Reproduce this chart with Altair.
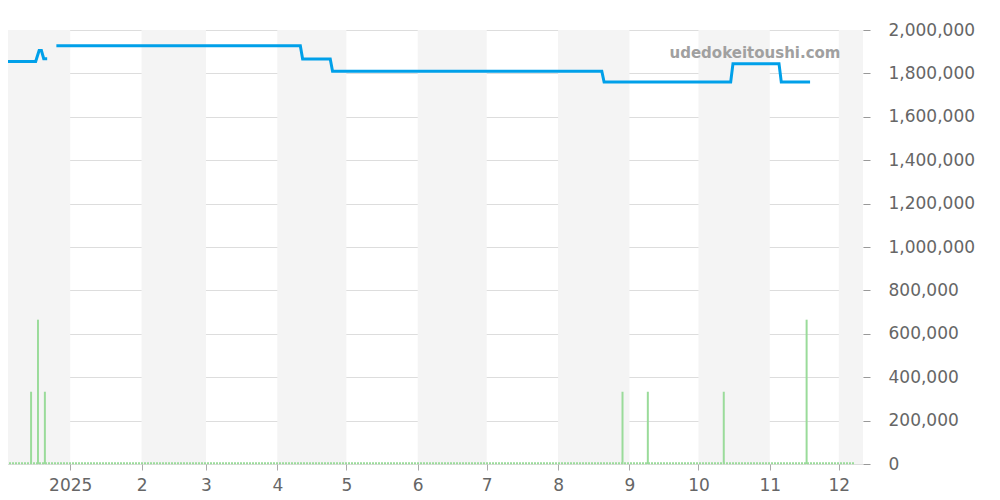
import altair as alt
import pandas as pd

# ---- data ----
line_dates = [
    "2024-12-01T00:00:00", "2024-12-17T00:00:00", "2024-12-18T12:00:00", "2024-12-19T12:00:00",
    "2024-12-20T12:00:00", "2024-12-22T00:00:00",
    "2024-12-26T00:00:00", "2025-04-11T00:00:00", "2025-04-12T00:00:00", "2025-04-24T00:00:00",
    "2025-04-25T00:00:00", "2025-08-20T00:00:00", "2025-08-21T00:00:00", "2025-10-15T00:00:00",
    "2025-10-16T00:00:00", "2025-11-05T00:00:00", "2025-11-06T00:00:00", "2025-11-18T12:00:00",
]
line_values = [
    1855000, 1855000, 1905000, 1905000,
    1868000, 1868000,
    1927000, 1927000, 1866000, 1866000,
    1810000, 1810000, 1760000, 1760000,
    1845000, 1845000, 1760000, 1760000,
]
line_segments = ["a"] * 6 + ["b"] * 12

bar_dates = [
    "2024-12-15T00:00:00", "2024-12-18T00:00:00", "2024-12-21T00:00:00",
    "2025-08-29T00:00:00", "2025-09-09T00:00:00", "2025-10-12T00:00:00", "2025-11-17T00:00:00",
]
bar_values = [333000, 665000, 333000, 333000, 333000, 333000, 665000]

band_starts = ["2024-12-01T00:00:00", "2025-02-01T00:00:00", "2025-04-01T00:00:00",
               "2025-06-01T00:00:00", "2025-08-01T00:00:00", "2025-10-01T00:00:00",
               "2025-12-01T00:00:00"]
band_ends = ["2025-01-01T00:00:00", "2025-03-01T00:00:00", "2025-05-01T00:00:00",
             "2025-07-01T00:00:00", "2025-09-01T00:00:00", "2025-11-01T00:00:00",
             "2025-12-12T00:00:00"]

month_ticks = ["2025-01-01T00:00:00", "2025-02-01T00:00:00", "2025-03-01T00:00:00",
               "2025-04-01T00:00:00", "2025-05-01T00:00:00", "2025-06-01T00:00:00",
               "2025-07-01T00:00:00", "2025-08-01T00:00:00", "2025-09-01T00:00:00",
               "2025-10-01T00:00:00", "2025-11-01T00:00:00", "2025-12-01T00:00:00"]
y_ticks = [0, 200000, 400000, 600000, 800000, 1000000, 1200000, 1400000,
           1600000, 1800000, 2000000]

x_domain = ["2024-12-01T12:00:00", "2025-12-11T12:00:00"]
baseline_range = ["2024-12-01T12:00:00", "2025-12-08T00:00:00"]
baseline_value = [4000]
watermark = "udedokeitoushi.com"

# ---- tables ----
line_df = pd.DataFrame({"date": line_dates, "value": line_values, "seg": line_segments})
bar_df = pd.DataFrame({"date": bar_dates, "value": bar_values})
band_df = pd.DataFrame({"start": band_starts, "end": band_ends})
base_df = pd.DataFrame({"start": [baseline_range[0]], "end": [baseline_range[1]], "value": baseline_value})

xscale = alt.Scale(domain=x_domain)
yscale = alt.Scale(domain=[0, 2000000], nice=False)

xaxis = alt.Axis(
    values=month_ticks,
    labelExpr="month(datum.value) == 0 ? timeFormat(datum.value, '%Y') : '' + (month(datum.value) + 1)",
    title=None, grid=False, domain=False, tickColor="#aaaaaa", tickSize=6,
    labelFontSize=17, labelColor="#666666", labelFont="DejaVu Sans", labelPadding=7,
    labelFlush=False,
)
yaxis = alt.Axis(
    orient="right", values=y_ticks, labelExpr="format(datum.value, ',')", title=None,
    grid=True, gridColor="#dddddd",
    domain=False, tickColor="#999999", tickSize=7, labelFontSize=17, labelColor="#666666",
    labelFont="DejaVu Sans", labelPadding=18,
)

bands = alt.Chart(band_df).mark_rect(color="#f4f4f4", clip=True).encode(
    x=alt.X("start:T", scale=xscale, axis=xaxis),
    x2="end:T",
)

bars = alt.Chart(bar_df).mark_rule(color="#9adb9a", strokeWidth=2, clip=True).encode(
    x=alt.X("date:T", scale=xscale, axis=xaxis),
    y=alt.Y("value:Q", scale=yscale, axis=yaxis),
    y2=alt.datum(0),
)

baseline = alt.Chart(base_df).mark_rule(
    color="#9adb9a", strokeWidth=2, strokeDash=[2, 1]
).encode(
    x=alt.X("start:T", scale=xscale, axis=xaxis),
    x2="end:T",
    y=alt.Y("value:Q", scale=yscale, axis=yaxis),
)

line = alt.Chart(line_df).mark_line(color="#00a0e9", strokeWidth=3, clip=True).encode(
    x=alt.X("date:T", scale=xscale, axis=xaxis),
    y=alt.Y("value:Q", scale=yscale, axis=yaxis),
    detail="seg:N",
)

text = alt.Chart(pd.DataFrame({"t": [watermark]})).mark_text(
    fontSize=15, fontWeight="bold", color="#a0a0a0", font="DejaVu Sans", align="center", baseline="middle"
).encode(text="t:N", x=alt.value(755), y=alt.value(23))

chart = alt.layer(bands, bars, baseline, line, text).properties(
    width=863, height=434,
    padding={"left": -8, "top": 22, "right": 128, "bottom": 30},
    autosize=alt.AutoSizeParams(type="none"),
).configure_view(stroke=None)

chart.save("out.html", embed_options={"renderer": "svg", "actions": False})
